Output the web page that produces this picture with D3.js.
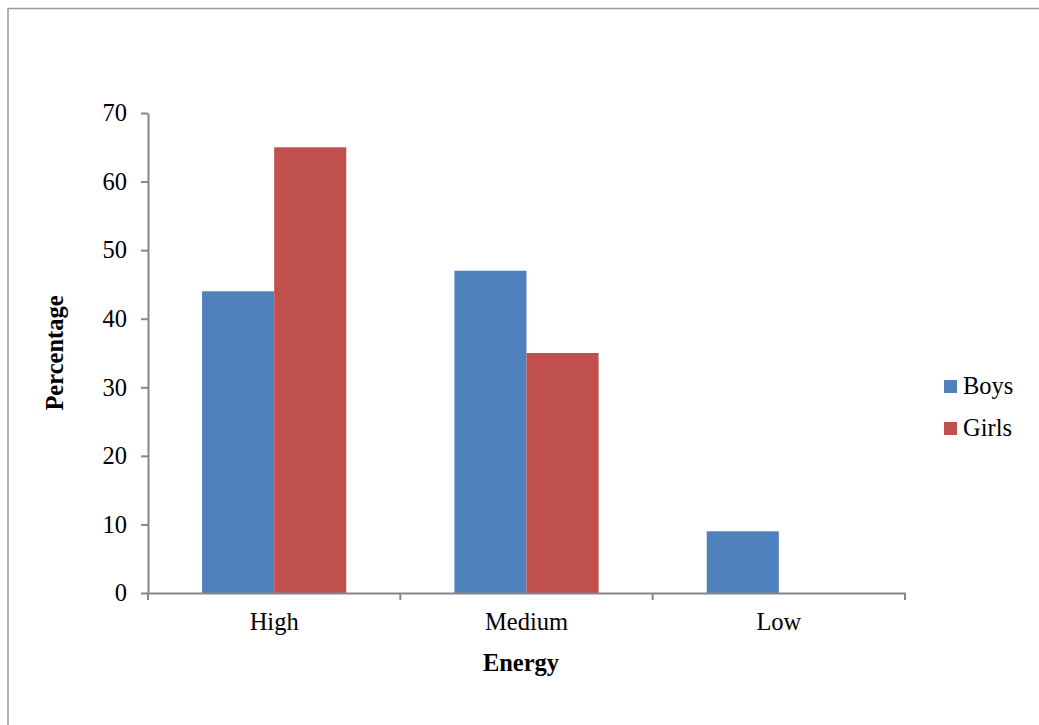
<!DOCTYPE html>
<html><head><meta charset="utf-8">
<script src="https://cdn.jsdelivr.net/npm/d3@7"></script>
<style>body{margin:0;background:#fff}svg{display:block}</style>
</head><body>
<script>
const categories = ["High", "Medium", "Low"];
const seriesNames = ["Boys", "Girls"];
const boys = [44, 47, 9];
const girls = [65, 35, 0];
const yTicks = [0, 10, 20, 30, 40, 50, 60, 70];
const colors = ["#4F81BD", "#C0504D"];

const W = 1039, H = 725;
const svg = d3.select("body").append("svg").attr("width", W).attr("height", H);
const font = "'Liberation Serif', 'Times New Roman', serif";
const fs = 24.5;

// frame
svg.append("line").attr("x1", 8).attr("x2", W).attr("y1", 8.5).attr("y2", 8.5).attr("stroke", "#999").attr("stroke-width", 1.5);
svg.append("line").attr("x1", 8).attr("x2", 8).attr("y1", 8).attr("y2", H).attr("stroke", "#999").attr("stroke-width", 1.5);

const x0 = 148, x1 = 905, yTop = 113, yBot = 593;
const x = d3.scaleBand().domain(categories).range([x0, x1]).paddingInner(0).paddingOuter(0);
const y = d3.scaleLinear().domain([0, 70]).range([yBot, yTop]);
const inner = d3.scaleBand().domain(seriesNames).range([0, x.bandwidth()]).paddingInner(0).paddingOuter(0.75);

const data = categories.map((c, i) => ({cat: c, vals: [boys[i], girls[i]]}));

const g = svg.append("g");
g.selectAll("g.cat").data(data).join("g").attr("transform", d => `translate(${x(d.cat)},0)`)
  .selectAll("rect").data(d => d.vals.map((v, j) => ({v, s: seriesNames[j], j})))
  .join("rect")
  .attr("x", d => inner(d.s)).attr("width", inner.bandwidth())
  .attr("y", d => y(d.v)).attr("height", d => yBot - y(d.v))
  .attr("fill", d => colors[d.j]);

// y axis
const ya = svg.append("g").attr("transform", `translate(${x0},0)`).call(d3.axisLeft(y).tickValues(yTicks).tickSize(7).tickPadding(14).tickSizeOuter(0));
ya.select(".domain").attr("stroke", "#868686").attr("stroke-width", 2);
ya.selectAll(".tick line").attr("stroke", "#868686").attr("stroke-width", 2);
ya.selectAll("text").attr("font-family", font).attr("font-size", fs).attr("fill", "#000");

// x axis
const xa = svg.append("g").attr("transform", `translate(0,${yBot})`).call(d3.axisBottom(x).tickSize(0).tickPadding(20));
xa.select(".domain").attr("stroke", "#868686").attr("stroke-width", 2);
xa.selectAll(".tick line").remove();
xa.selectAll("text").attr("font-family", font).attr("font-size", fs).attr("fill", "#000");
const bounds = [x0, ...categories.map(c => x(c) + x.bandwidth())];
xa.selectAll("line.sep").data(bounds).join("line").attr("class", "sep")
  .attr("x1", d => d).attr("x2", d => d).attr("y1", 0).attr("y2", 7)
  .attr("stroke", "#868686").attr("stroke-width", 2);

// titles
svg.append("text").attr("x", 521).attr("y", 671).attr("text-anchor", "middle")
  .attr("font-family", font).attr("font-size", fs).attr("font-weight", "bold").text("Energy");
svg.append("text").attr("transform", `translate(63,353) rotate(-90)`).attr("text-anchor", "middle")
  .attr("font-family", font).attr("font-size", fs).attr("font-weight", "bold").text("Percentage");

// legend
const lg = svg.append("g").attr("transform", "translate(944,380)");
seriesNames.forEach((s, i) => {
  lg.append("rect").attr("x", 0).attr("y", i * 42).attr("width", 13).attr("height", 13).attr("fill", colors[i]);
  lg.append("text").attr("x", 19).attr("y", i * 42 + 14).attr("font-family", font).attr("font-size", fs).text(s);
});
</script>
</body></html>
